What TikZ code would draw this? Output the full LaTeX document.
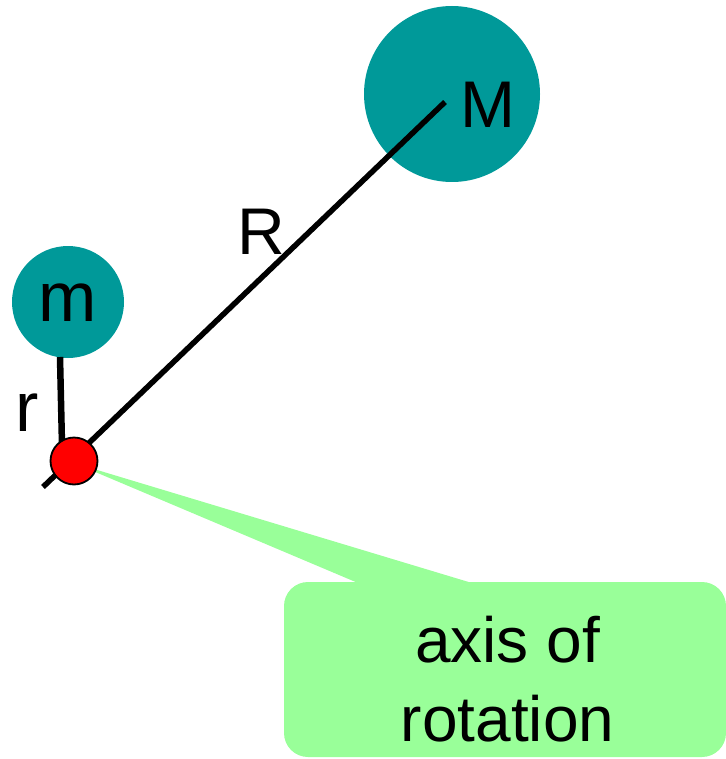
\documentclass[tikz,border=0pt]{standalone}
\usepackage{fontspec}
\setmainfont{Liberation Sans}
\definecolor{tealmass}{HTML}{009999}
\definecolor{calloutgreen}{HTML}{99FF99}
\begin{document}
\begin{tikzpicture}[x=1pt,y=-1pt,
  mass/.style={circle, fill=tealmass, draw=none, inner sep=0pt},
  lbl/.style={inner sep=0pt, text=black},
  rod/.style={draw=black, line width=#1},
  axisdot/.style={circle, fill=red, draw=black, line width=1.8pt, inner sep=0pt, minimum size=47pt}
]
\useasboundingbox (0,0) rectangle (725,759);
% callout
\coordinate (tip) at (74,463);
\coordinate (pl) at (358,583);
\coordinate (pr) at (472,583);
\fill[calloutgreen] (tip) -- (pl) -- (pr) -- cycle;
\fill[calloutgreen, rounded corners=24pt] (284,582) rectangle (726,757);
\node[lbl, align=center, font=\fontsize{64}{79}\selectfont] (callout) at (507.5,679.5) {axis of\\rotation};
% masses
\node[mass, minimum size=176pt] (M) at (452,94) {};
\node[mass, minimum size=112pt] (m) at (68,302) {};
% rods
\coordinate (Rin) at (445,102);
\coordinate (Rend) at (43,487);
\draw[rod=5.5pt] (Rend) -- (Rin);
\coordinate (rtop) at (60,357);
\coordinate (rbot) at (62,445);
\draw[rod=6.5pt] (rtop) -- (rbot);
% axis
\node[axisdot] (axis) at (74,461) {};
% labels
\node[lbl, font=\fontsize{66}{66}\selectfont] (Mlbl) at (487.5,104.5) {M};
\node[lbl, font=\fontsize{66}{66}\selectfont] (Rlbl) at (261,231.5) {R};
\node[lbl, font=\fontsize{70}{70}\selectfont] (mlbl) at (67.5,303) {m};
\node[lbl, font=\fontsize{70}{70}\selectfont] (rlbl) at (27.5,413) {r};
\end{tikzpicture}
\end{document}
